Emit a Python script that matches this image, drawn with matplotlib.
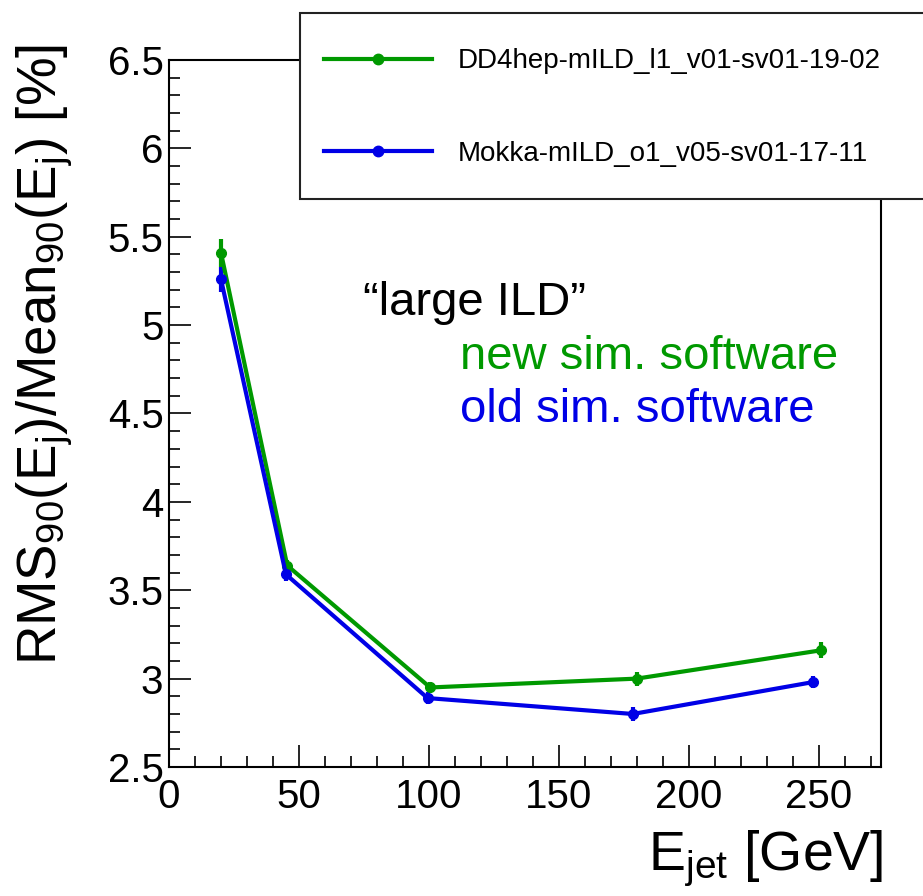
import matplotlib
matplotlib.use("Agg")
import matplotlib.pyplot as plt
from matplotlib.lines import Line2D
from matplotlib.patches import Rectangle

plt.rcParams['font.family'] = ['Liberation Sans', 'DejaVu Sans']
plt.rcParams['mathtext.default'] = 'regular'

# jet energy [GeV] and RMS90/Mean90 [%]
energy_new = [20, 45.5, 100.5, 180, 250.8]
res_new = [5.41, 3.64, 2.95, 3.00, 3.16]
err_new = [0.08, 0.03, 0.03, 0.04, 0.045]

energy_old = [20, 45, 99.5, 178.5, 247.7]
res_old = [5.26, 3.59, 2.89, 2.80, 2.98]
err_old = [0.07, 0.035, 0.035, 0.04, 0.035]

label_new = 'DD4hep-mILD_l1_v01-sv01-19-02'
label_old = 'Mokka-mILD_o1_v05-sv01-17-11'

green = '#009900'
blue = '#0000e6'

fig = plt.figure(figsize=(9.23, 8.96), dpi=100)
ax = fig.add_axes([169 / 923, 1 - 767 / 896, 712 / 923, 707 / 896])

ax.errorbar(energy_new, res_new, yerr=err_new, color=green, lw=3, marker='o',
            markersize=7, capsize=0, elinewidth=3, zorder=3)
ax.errorbar(energy_old, res_old, yerr=err_old, color=blue, lw=3, marker='o',
            markersize=7, capsize=0, elinewidth=3, zorder=3)

ax.set_xlim(0, 274)
ax.set_ylim(2.5, 6.5)
ax.set_xticks([0, 50, 100, 150, 200, 250])
ax.set_xticks(range(0, 275, 10), minor=True)
ax.set_yticks([2.5, 3, 3.5, 4, 4.5, 5, 5.5, 6, 6.5])
ax.set_yticklabels(['2.5', '3', '3.5', '4', '4.5', '5', '5.5', '6', '6.5'])
ax.set_yticks([2.5 + 0.1 * i for i in range(41)], minor=True)
ax.tick_params(which='both', direction='in', labelsize=29, width=1.2,
               top=False, right=False)
ax.tick_params(which='major', length=16)
ax.tick_params(which='minor', length=8)
ax.tick_params(axis='x', pad=8)
ax.tick_params(axis='y', pad=4)
for sp in ax.spines.values():
    sp.set_linewidth(1.5)

ax.set_xlabel(r'E$_{jet}$ [GeV]', fontsize=40)
ax.xaxis.set_label_coords(1.003, -0.1457)
ax.xaxis.label.set_ha('right')
ax.xaxis.label.set_va('baseline')

ax.set_ylabel(r'RMS$_{90}$(E$_{j}$)/Mean$_{90}$(E$_{j}$) [%]', fontsize=39.3)
ax.yaxis.set_label_coords(-0.174, 0.583)
ax.yaxis.label.set_ha('center')
ax.yaxis.label.set_va('center')

ax.text(74.8, 5.06, '\u201clarge ILD\u201d', fontsize=34, color='black', va='baseline')
ax.text(112.1, 4.75, 'new sim. software', fontsize=34, color=green, va='baseline')
ax.text(112.1, 4.45, 'old sim. software', fontsize=34, color=blue, va='baseline')

# legend box (ROOT style, runs past the right edge)
box = Rectangle((300 / 923, 1 - 199 / 896), 0.7, 186 / 896,
                transform=fig.transFigure, facecolor='white',
                edgecolor='#222222', lw=1.5, zorder=4)
fig.patches.append(box)

handles = [Line2D([], [], color=green, lw=3, marker='o', markersize=7.5),
           Line2D([], [], color=blue, lw=3, marker='o', markersize=7.5)]
leg = fig.legend(handles, [label_new, label_old], loc='center left',
                 bbox_to_anchor=(324 / 923, 1 - 107.5 / 896),
                 bbox_transform=fig.transFigure, frameon=False,
                 borderaxespad=0, borderpad=0, fontsize=20,
                 labelspacing=2.38, handlelength=3.9, handletextpad=0.9)
leg.set_zorder(5)

plt.savefig('out.png', dpi=100)
